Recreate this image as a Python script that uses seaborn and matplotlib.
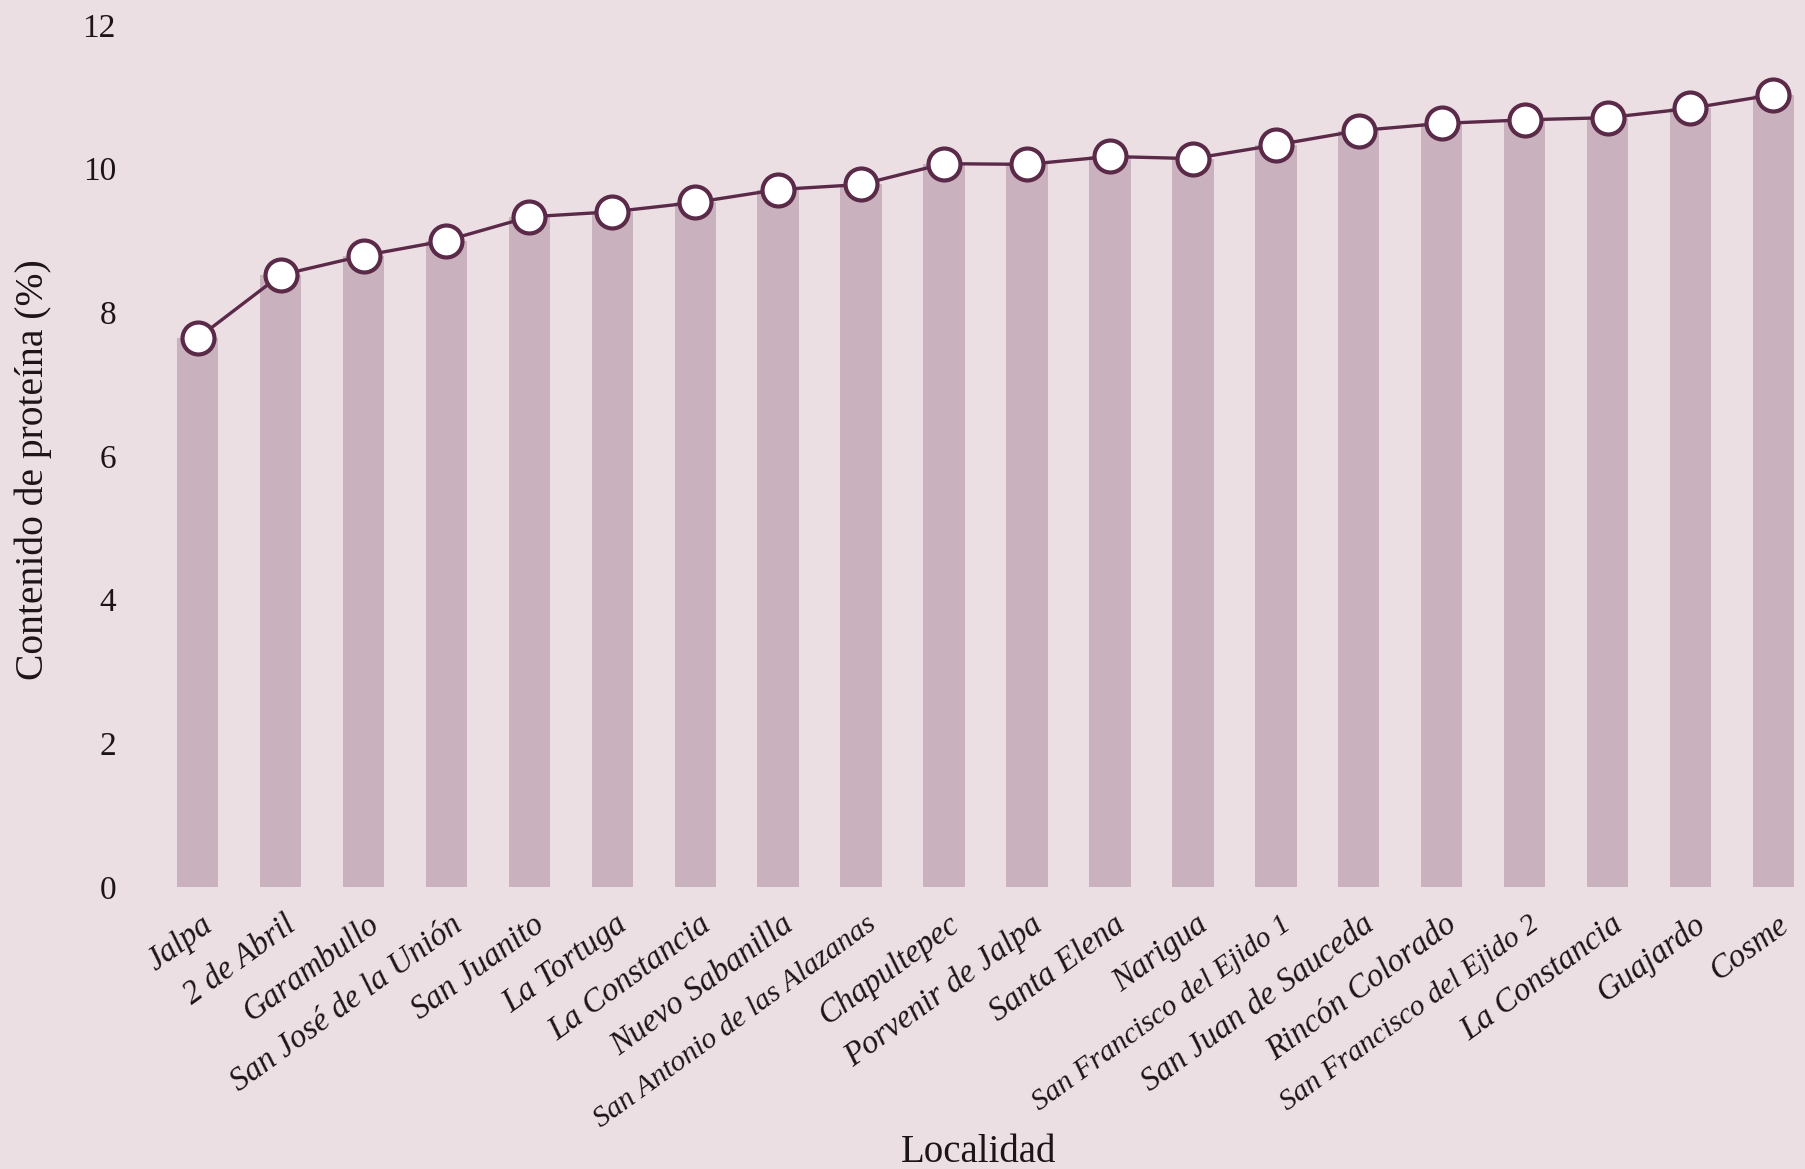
import numpy as np
import matplotlib
matplotlib.use("Agg")
import matplotlib.pyplot as plt
import matplotlib.transforms as mtransforms
import seaborn as sns

# Protein content per locality (%)
localidades = [
    "Jalpa", "2 de Abril", "Garambullo", "San José de la Unión", "San Juanito",
    "La Tortuga", "La Constancia", "Nuevo Sabanilla", "San Antonio de las Alazanas",
    "Chapultepec", "Porvenir de Jalpa", "Santa Elena", "Narigua",
    "San Francisco del Ejido 1", "San Juan de Sauceda", "Rincón Colorado",
    "San Francisco del Ejido 2", "La Constancia", "Guajardo", "Cosme",
]
proteina = [
    7.64, 8.52, 8.79, 9.00, 9.33, 9.40, 9.53, 9.71, 9.78, 10.07,
    10.06, 10.17, 10.14, 10.33, 10.53, 10.63, 10.68, 10.71, 10.84, 11.03,
]
y_ticks = [0, 2, 4, 6, 8, 10, 12]
small_labels = {"San Antonio de las Alazanas", "San Francisco del Ejido 1",
                "San Francisco del Ejido 2"}

BG = "#ecdfe4"
BAR = "#c9b1bd"
LINE = "#5a2a48"
TEXT = "#1c1418"

sns.set_theme(style="white")
plt.rcParams["font.family"] = ["Liberation Serif", "DejaVu Serif"]

fig = plt.figure(figsize=(18.06, 11.69), dpi=100, facecolor=BG)
ax = fig.add_axes([0.0842, 0.2412, 0.9138, 0.7374])
ax.set_facecolor(BG)

pos = np.arange(len(localidades))
sns.barplot(x=pos, y=proteina, color=BAR, width=0.5, saturation=1,
            edgecolor="none", ax=ax, zorder=1)
sns.lineplot(x=pos, y=proteina, color=LINE, linewidth=2.4, marker="o",
             markersize=23, markerfacecolor="white", markeredgecolor=LINE,
             markeredgewidth=3, ax=ax, zorder=3)

ax.set_xlim(-0.55, 19.35)
ax.set_ylim(0, 12)
ax.set_yticks(y_ticks)
ax.set_yticklabels([str(t) for t in y_ticks], fontsize=24, color=TEXT)
ax.tick_params(axis="y", length=0, pad=26)
ax.tick_params(axis="x", length=0, pad=25)

ax.set_xticks(pos)
ax.set_xticklabels(localidades, rotation=36, ha="right", va="center",
                   rotation_mode="anchor", style="italic", color=TEXT)
shift = mtransforms.ScaledTranslation(12 / 100, 0, fig.dpi_scale_trans)
for lbl in ax.get_xticklabels():
    lbl.set_fontsize(21.5 if lbl.get_text() in small_labels else 23.5)
    lbl.set_transform(lbl.get_transform() + shift)

for s in ax.spines.values():
    s.set_visible(False)
ax.grid(False)
ax.set_xlabel("")
ax.set_ylabel("")

fig.text(0.0185, 0.598, "Contenido de proteína (%)", rotation=90,
         ha="center", va="center", fontsize=28.5, color=TEXT)
fig.text(0.542, 0.014, "Localidad", ha="center", va="center",
         fontsize=28, color=TEXT)

fig.savefig("out.png", dpi=100, facecolor=BG)
